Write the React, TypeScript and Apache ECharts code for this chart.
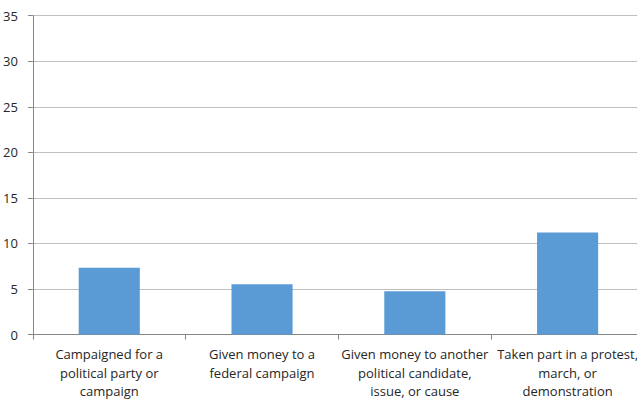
import React, { useEffect, useRef } from "react";
import * as echarts from "echarts";

const categories = [
  "Campaigned for a\npolitical party or\ncampaign",
  "Given money to a\nfederal campaign",
  "Given money to another\npolitical candidate,\nissue, or cause",
  "Taken part in a protest,\nmarch, or\ndemonstration",
];
const values = [7.35, 5.53, 4.76, 11.2];
const yMin = 0;
const yMax = 35;
const yInterval = 5;

export default function App() {
  const ref = useRef<HTMLDivElement>(null);
  useEffect(() => {
    if (!ref.current) return;
    const chart = echarts.init(ref.current, undefined, { renderer: "svg" });
    const font = "'Open Sans', sans-serif";
    chart.setOption({
      animation: false,
      textStyle: { fontFamily: font },
      grid: { left: 29.5, right: 0, top: 15.7, bottom: 63.3, containLabel: false },
      xAxis: {
        type: "category",
        data: categories,
        axisLine: { lineStyle: { color: "#868686", width: 1 } },
        axisTick: { show: true, length: 5, lineStyle: { color: "#868686" } },
        axisLabel: {
          color: "#262626",
          fontSize: 13,
          fontFamily: font,
          lineHeight: 18.3,
          margin: 10.5,
          interval: 0,
          align: "center",
        },
        splitLine: { show: false },
      },
      yAxis: {
        type: "value",
        min: yMin,
        max: yMax,
        interval: yInterval,
        axisLine: { show: true, lineStyle: { color: "#868686", width: 1 } },
        axisTick: { show: true, length: 5, lineStyle: { color: "#868686" } },
        axisLabel: { color: "#262626", fontSize: 13, fontFamily: font, margin: 15 },
        splitLine: { show: true, lineStyle: { color: "#bfbfbf", width: 1 } },
      },
      series: [
        {
          type: "bar",
          data: values,
          barWidth: "40%",
          itemStyle: { color: "#5b9bd5" },
        },
      ],
    });
    return () => chart.dispose();
  }, []);
  return (
    <div
      style={{
        position: "absolute",
        left: 0,
        top: 0,
        width: 637,
        height: 400,
        overflow: "hidden",
      }}
    >
      <div ref={ref} style={{ width: 644, height: 400 }} />
    </div>
  );
}
